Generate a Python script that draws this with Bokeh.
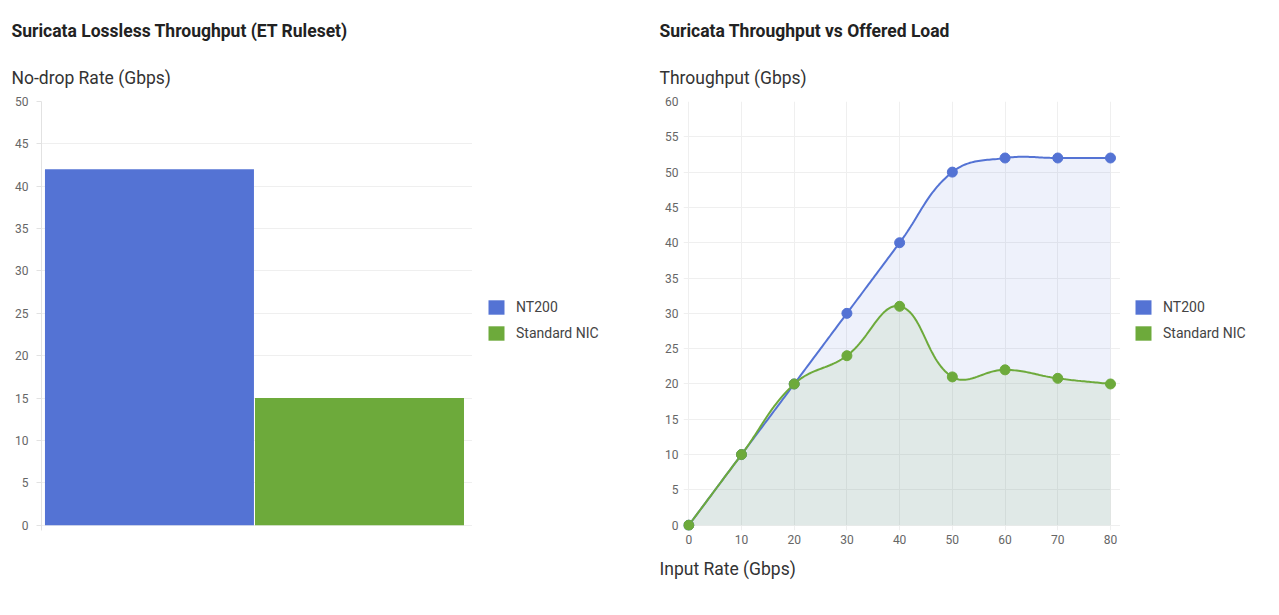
import numpy as np
from bokeh.plotting import figure
from bokeh.models import (Range1d, FactorRange, Title, Legend, LegendItem,
                          ColumnDataSource, FixedTicker)
from bokeh.transform import dodge
from bokeh.layouts import row
from bokeh.embed import file_html
from bokeh.resources import INLINE

FONT = "Roboto"

# ---- data ----
bar_series = ["NT200", "Standard NIC"]
bar_values = [42, 15]
bar_colors = ["#5473d4", "#6daa3b"]
bar_yticks = [0, 5, 10, 15, 20, 25, 30, 35, 40, 45, 50]

input_rate = [0, 10, 20, 30, 40, 50, 60, 70, 80]
nt200_tp = [0, 10, 20, 30, 40, 50, 52, 52, 52]
std_tp = [0, 10, 20, 24, 31, 21, 22, 20.8, 20]
line_yticks = [0, 5, 10, 15, 20, 25, 30, 35, 40, 45, 50, 55, 60]

GRID = "#efefef"
AXIS = "#e2e2e2"
TICK_TXT = "#666666"
TITLE_TXT = "#222222"
LABEL_TXT = "#333333"
TSIZE = "17.5px"
H = 615


def style_axes(p, tick_out, standoff):
    for ax in list(p.xaxis) + list(p.yaxis):
        ax.axis_line_color = AXIS
        ax.major_tick_line_color = AXIS
        ax.minor_tick_line_color = None
        ax.major_tick_out = tick_out
        ax.major_tick_in = 0
        ax.major_label_text_font = FONT
        ax.major_label_text_font_size = "12px"
        ax.major_label_text_color = TICK_TXT
        ax.major_label_standoff = standoff
    p.outline_line_color = None
    p.ygrid.grid_line_color = GRID
    p.xgrid.grid_line_color = GRID


def add_titles(p, main, ylab, off):
    p.add_layout(Title(text=ylab, align="left", offset=off, text_font=FONT,
                       text_font_size=TSIZE, text_font_style="normal",
                       text_color=LABEL_TXT, standoff=28), "above")
    p.add_layout(Title(text=main, align="left", offset=off, text_font=FONT,
                       text_font_size=TSIZE, text_font_style="bold",
                       text_color=TITLE_TXT, standoff=21), "above")


def legend_panel(names, colors, values, width, dx):
    """A narrow side figure holding only the legend."""
    lp = figure(width=width, height=H, x_axis_type=None, y_axis_type=None,
                x_range=Range1d(0, 1), y_range=Range1d(0, 1), title=None,
                output_backend="svg", toolbar_location=None,
                min_border=0, outline_line_color=None)
    lp.grid.visible = False
    items = []
    for name, col, val in zip(names, colors, values):
        # zero-size key glyph, drawn only as legend swatch
        key = lp.quad(left=[val], right=[val], top=[val], bottom=[val],
                      fill_color=col, line_color=None)
        items.append(LegendItem(label=name, renderers=[key]))
    lp.add_layout(Legend(items=items, location=(dx, 188), orientation="vertical",
                         glyph_width=20, glyph_height=18, label_text_font=FONT,
                         label_text_font_size="14px", label_text_color="#444444",
                         spacing=8, label_standoff=10, border_line_color=None,
                         background_fill_alpha=0, margin=0, padding=0))
    return lp


# ---- left: bar chart ----
p1 = figure(width=472, height=H, title=None,
            x_range=FactorRange(*bar_series, range_padding=0.026),
            y_range=Range1d(-50 * 5.3 / 424, 50), output_backend="svg",
            toolbar_location=None,
            min_border_left=41, min_border_right=0, min_border_top=101,
            min_border_bottom=85)
for name, val, col in zip(bar_series, bar_values, bar_colors):
    src = ColumnDataSource(dict(x=[name], top=[val]))
    p1.vbar(x=dodge("x", -0.012, range=p1.x_range), top="top", bottom=0,
            width=0.995, source=src, fill_color=col, line_color=None)
p1.yaxis.ticker = FixedTicker(ticks=bar_yticks)
p1.xaxis.visible = False
style_axes(p1, 5, 8)
p1.xgrid.grid_line_color = None
add_titles(p1, "Suricata Lossless Throughput (ET Ruleset)", "No-drop Rate (Gbps)", -30)
leg1 = legend_panel(bar_series, bar_colors, bar_values, 176, 14)


# ---- right: line chart ----
def smooth(xs, ys, sx, sy, t=0.4, n=30):
    P = np.column_stack([np.asarray(xs, float) * sx, np.asarray(ys, float) * sy])
    m = len(P)
    cp_prev = np.zeros_like(P)
    cp_next = np.zeros_like(P)
    for i in range(m):
        prev = P[max(i - 1, 0)]
        cur = P[i]
        nxt = P[min(i + 1, m - 1)]
        d01 = np.hypot(*(cur - prev))
        d12 = np.hypot(*(nxt - cur))
        tot = d01 + d12
        s01 = d01 / tot if tot else 0.0
        s12 = d12 / tot if tot else 0.0
        cp_prev[i] = cur - t * s01 * (nxt - prev)
        cp_next[i] = cur + t * s12 * (nxt - prev)
    out = [P[0]]
    uu = np.linspace(0, 1, n + 1)[1:]
    for i in range(m - 1):
        p0, p1_, p2_, p3 = P[i], cp_next[i], cp_prev[i + 1], P[i + 1]
        for u in uu:
            out.append((1 - u) ** 3 * p0 + 3 * (1 - u) ** 2 * u * p1_
                       + 3 * (1 - u) * u ** 2 * p2_ + u ** 3 * p3)
    out = np.array(out)
    return out[:, 0] / sx, np.clip(out[:, 1] / sy, 0, None)


SX = 437 / 82.9
SY = 429 / 60.75

p2 = figure(width=472, height=H, title=None,
            x_range=Range1d(-1, 81.9), y_range=Range1d(-0.75, 60),
            output_backend="svg", toolbar_location=None,
            min_border_left=35, min_border_right=0, min_border_top=101,
            min_border_bottom=85)

series = [("NT200", nt200_tp, bar_colors[0]), ("Standard NIC", std_tp, bar_colors[1])]
curves = {}
for name, ys, col in series:
    cx, cy = smooth(input_rate, ys, SX, SY)
    curves[name] = (cx, cy)
    p2.varea(x=cx, y1=0, y2=cy, fill_color=col, fill_alpha=0.1)
for name, ys, col in series:
    cx, cy = curves[name]
    p2.line(cx, cy, line_color=col, line_width=2)
for name, ys, col in series:
    p2.scatter(input_rate, ys, size=10, fill_color=col, line_color=col)

p2.xaxis.ticker = FixedTicker(ticks=input_rate)
p2.yaxis.ticker = FixedTicker(ticks=line_yticks)
style_axes(p2, 0, 5)
p2.xaxis.major_label_standoff = 4
p2.xaxis.axis_line_color = None
p2.yaxis.axis_line_color = None
add_titles(p2, "Suricata Throughput vs Offered Load", "Throughput (Gbps)", -24)
p2.add_layout(Title(text="Input Rate (Gbps)", align="left", offset=-24,
                    text_font=FONT, text_font_size=TSIZE,
                    text_font_style="normal", text_color=LABEL_TXT,
                    standoff=21), "below")
leg2 = legend_panel([s[0] for s in series], [s[2] for s in series],
                    [s[1][-1] for s in series], 159, 13)

layout = row(p1, leg1, p2, leg2)
open("out.html", "w").write(file_html(layout, INLINE))
